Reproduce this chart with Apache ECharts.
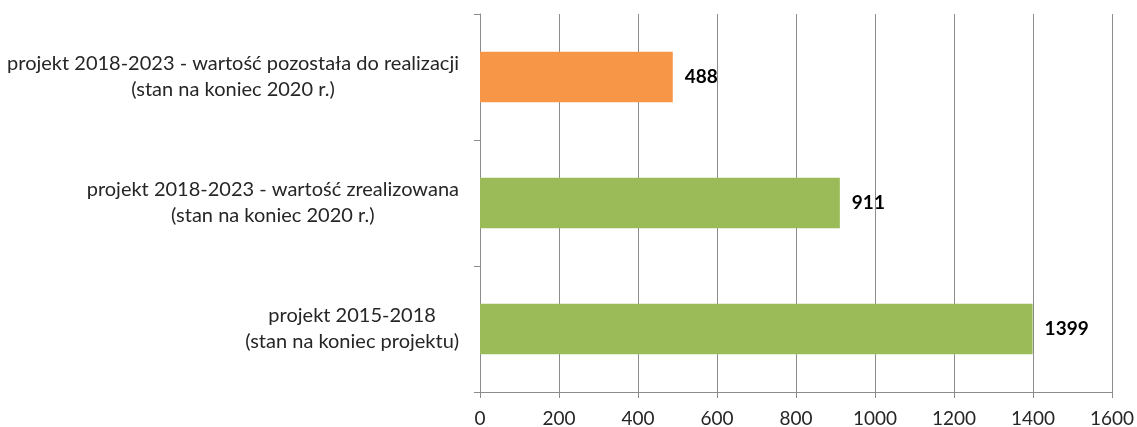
<!DOCTYPE html>
<html>
<head>
<meta charset="utf-8">
<script src="https://cdn.jsdelivr.net/npm/echarts@6/dist/echarts.min.js"></script>
<style>
  html, body { margin: 0; padding: 0; background: #fff; }
  #chart { width: 1137px; height: 427px; }
</style>
</head>
<body>
<div id="chart"></div>
<script>
// Categories listed bottom to top (category axis grows upward)
const categories = [
  'projekt 2015-2018\n(stan na koniec projektu)',
  'projekt 2018-2023 - wartość zrealizowana\n(stan na koniec 2020 r.)',
  'projekt 2018-2023 - wartość pozostała do realizacji\n(stan na koniec 2020 r.)'
];
const values = [1399, 911, 488];
const barColors = ['#9BBB59', '#9BBB59', '#F79646'];
const xTicks = { min: 0, max: 1600, interval: 200 };

const FONT = 'Lato, "Open Sans", sans-serif';
const GRID_GRAY = '#8c8c8c';
const TEXT = '#262626';

const chart = echarts.init(document.getElementById('chart'), null, { renderer: 'canvas' });

chart.setOption({
  animation: false,
  backgroundColor: '#ffffff',
  grid: {
    left: 480, right: 25, top: 14, bottom: 35,
    containLabel: false,
    outerBoundsMode: 'none'
  },
  xAxis: {
    type: 'value',
    min: xTicks.min,
    max: xTicks.max,
    interval: xTicks.interval,
    axisLine: { show: true, lineStyle: { color: GRID_GRAY, width: 1 } },
    axisTick: { show: true, length: 6, lineStyle: { color: GRID_GRAY } },
    splitLine: { show: true, lineStyle: { color: GRID_GRAY, width: 1 } },
    axisLabel: {
      color: TEXT, fontFamily: FONT, fontSize: 19, margin: 17,
      formatter: function (v) { return String(v); }
    }
  },
  yAxis: {
    type: 'category',
    data: categories,
    axisLine: { show: true, lineStyle: { color: GRID_GRAY, width: 1 } },
    axisTick: { show: true, length: 6, lineStyle: { color: GRID_GRAY } },
    splitLine: { show: false },
    axisLabel: {
      margin: 21,
      color: TEXT,
      fontFamily: FONT,
      fontSize: 20,
      lineHeight: 26,
      // each line centred inside the label block, block right-aligned to the axis
      formatter: function (v) {
        return v.split('\n').map(function (l) { return '{c|' + l + '}'; }).join('\n');
      },
      rich: {
        c: { align: 'center', color: TEXT, fontFamily: FONT, fontSize: 20, lineHeight: 26 }
      }
    }
  },
  series: [{
    type: 'bar',
    data: values.map(function (v, i) {
      return { value: v, itemStyle: { color: barColors[i] } };
    }),
    barCategoryGap: '60%',
    label: {
      show: true,
      position: 'right',
      distance: 12,
      color: '#000',
      fontFamily: FONT,
      fontWeight: 'bold',
      fontSize: 19
    }
  }]
});
</script>
</body>
</html>
